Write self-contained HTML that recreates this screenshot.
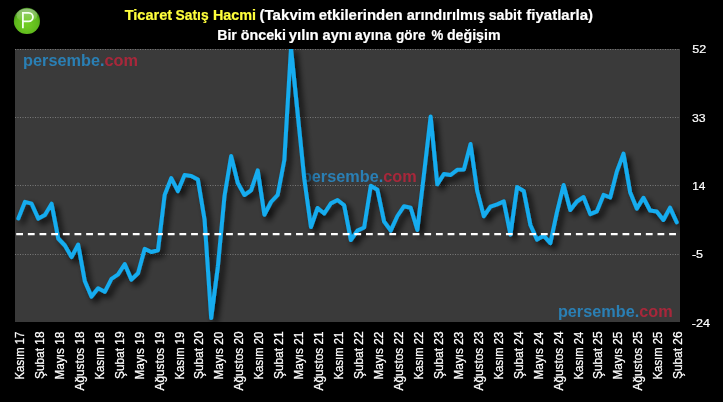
<!DOCTYPE html>
<html><head><meta charset="utf-8">
<style>
html,body{margin:0;padding:0;background:#000;width:723px;height:402px;overflow:hidden}
svg{display:block}
.t,.xl,.yl{opacity:0.999}
text{font-family:"Liberation Sans",sans-serif}
.t text{font-weight:bold;font-size:15.3px;stroke-width:0.2px}
.wm{font-weight:bold;font-size:16px}
.xl text{font-size:12px;fill:#fff;stroke:#fff;stroke-width:0.25px}
.yl text{font-size:11.5px;fill:#fff;stroke:#fff;stroke-width:0.2px}
</style></head><body>
<svg width="723" height="402" viewBox="0 0 723 402">
<defs>
<radialGradient id="pg" cx="0.5" cy="0.62" r="0.58">
<stop offset="0" stop-color="#74d024"/><stop offset="0.75" stop-color="#5eb81c"/><stop offset="1" stop-color="#3f8c14"/>
</radialGradient>
<linearGradient id="gl" x1="0" y1="0" x2="0" y2="1">
<stop offset="0" stop-color="#fff" stop-opacity="0.45"/><stop offset="1" stop-color="#fff" stop-opacity="0.05"/>
</linearGradient>
<filter id="sh" x="-10%" y="-20%" width="130%" height="150%">
<feGaussianBlur in="SourceAlpha" stdDeviation="3.4"/>
<feOffset dx="4" dy="3.5" result="b"/>
<feComponentTransfer in="b" result="c"><feFuncA type="linear" slope="0.9"/></feComponentTransfer>
<feMerge><feMergeNode in="c"/><feMergeNode in="SourceGraphic"/></feMerge>
</filter>
<filter id="wb"><feGaussianBlur stdDeviation="0.65"/></filter>
<clipPath id="pc"><rect x="15" y="49" width="665" height="273"/></clipPath>
</defs>
<rect width="723" height="402" fill="#000"/>
<circle cx="26.9" cy="20.9" r="13.1" fill="url(#pg)"/>
<ellipse cx="26.9" cy="15.2" rx="10.5" ry="6.8" fill="url(#gl)"/>
<path d="M22.9,28.2V12.8H28.7a4.25,4.25 0 0 1 0,8.5H22.9" fill="none" stroke="#f4fff0" stroke-width="1.8"/>
<g class="t" fill="#ffff3c" stroke="#ffff3c"><text x="124.66" y="19.9" textLength="47.49" lengthAdjust="spacingAndGlyphs">Ticaret</text>
<text x="175.53" y="19.9" textLength="33.07" lengthAdjust="spacingAndGlyphs">Satış</text>
<text x="212.91" y="19.9" textLength="43.12" lengthAdjust="spacingAndGlyphs">Hacmi</text></g>
<g class="t" fill="#fff" stroke="#fff"><text x="259.50" y="19.9" textLength="55.92" lengthAdjust="spacingAndGlyphs">(Takvim</text>
<text x="318.74" y="19.9" textLength="83.83" lengthAdjust="spacingAndGlyphs">etkilerinden</text>
<text x="406.66" y="19.9" textLength="78.45" lengthAdjust="spacingAndGlyphs">arındırılmış</text>
<text x="488.70" y="19.9" textLength="32.96" lengthAdjust="spacingAndGlyphs">sabit</text>
<text x="526.33" y="19.9" textLength="66.64" lengthAdjust="spacingAndGlyphs">fiyatlarla)</text>
<text x="217.22" y="39.5" textLength="19.60" lengthAdjust="spacingAndGlyphs">Bir</text>
<text x="240.76" y="39.5" textLength="45.23" lengthAdjust="spacingAndGlyphs">önceki</text>
<text x="288.73" y="39.5" textLength="29.99" lengthAdjust="spacingAndGlyphs">yılın</text>
<text x="322.46" y="39.5" textLength="29.45" lengthAdjust="spacingAndGlyphs">aynı</text>
<text x="354.87" y="39.5" textLength="36.50" lengthAdjust="spacingAndGlyphs">ayına</text>
<text x="396.06" y="39.5" textLength="29.47" lengthAdjust="spacingAndGlyphs">göre</text>
<text x="431.62" y="39.5" textLength="11.79" lengthAdjust="spacingAndGlyphs">%</text>
<text x="446.94" y="39.5" textLength="53.66" lengthAdjust="spacingAndGlyphs">değişim</text></g>
<rect x="15" y="49" width="665" height="273" fill="#3a3a3a"/>
<g stroke="#787878" stroke-width="1" stroke-dasharray="1 1.5"><line x1="15" x2="680" y1="49.5" y2="49.5"/><line x1="15" x2="680" y1="117.5" y2="117.5"/><line x1="15" x2="680" y1="185.5" y2="185.5"/><line x1="15" x2="680" y1="254.5" y2="254.5"/></g>
<g filter="url(#wb)">
<text x="23.10" y="65.8" class="wm" textLength="114.84" lengthAdjust="spacingAndGlyphs" style="font-size:16.2px"><tspan fill="#2a7fb4">persembe.</tspan><tspan fill="#a8283a">com</tspan></text>
<text x="301.90" y="181.5" class="wm" textLength="114.73" lengthAdjust="spacingAndGlyphs" style="font-size:16.2px"><tspan fill="#2a7fb4">persembe.</tspan><tspan fill="#a8283a">com</tspan></text>
<text x="557.90" y="316.7" class="wm" textLength="114.73" lengthAdjust="spacingAndGlyphs" style="font-size:16.2px"><tspan fill="#2a7fb4">persembe.</tspan><tspan fill="#a8283a">com</tspan></text>
</g>
<g clip-path="url(#pc)"><polyline points="18.32,218.5 24.98,201.8 31.62,203.7 38.28,218.6 44.92,214.9 51.58,203.7 58.23,238.5 64.88,245.5 71.53,257.1 78.18,244.5 84.83,281.3 91.48,296.6 98.12,288.2 104.78,291.8 111.43,278.8 118.08,274.4 124.73,264.0 131.38,279.6 138.03,273.2 144.68,248.9 151.33,252.0 157.97,250.3 164.62,195.0 171.28,178.1 177.93,191.1 184.58,175.0 191.23,175.9 197.88,179.6 204.53,219.5 211.18,318.0 217.83,267.0 224.48,196.0 231.12,156.0 237.78,183.0 244.43,195.0 251.08,190.3 257.73,170.4 264.38,214.8 271.03,202.0 277.68,194.8 284.32,160.0 290.98,48.0 297.62,113.3 304.28,179.0 310.93,227.0 317.57,208.0 324.23,213.5 330.88,203.4 337.53,200.0 344.18,205.3 350.83,240.0 357.48,230.6 364.12,227.5 370.78,185.8 377.43,189.8 384.08,221.5 390.73,230.6 397.38,216.0 404.03,206.2 410.68,207.8 417.33,230.0 423.98,174.0 430.62,116.5 437.28,184.3 443.93,174.0 450.58,175.0 457.23,169.8 463.88,169.6 470.53,144.0 477.18,191.0 483.83,216.2 490.48,206.6 497.12,204.3 503.78,201.4 510.43,234.6 517.08,187.1 523.73,190.9 530.38,225.0 537.02,239.6 543.68,235.7 550.33,243.2 556.98,212.0 563.62,185.0 570.27,210.0 576.93,201.5 583.58,197.0 590.23,214.1 596.88,211.3 603.52,194.9 610.18,197.5 616.83,171.5 623.48,153.6 630.12,192.2 636.77,208.6 643.43,197.8 650.08,210.5 656.73,211.5 663.38,220.0 670.03,207.6 676.68,222.3" fill="none" stroke="#12acef" stroke-width="4" stroke-linejoin="round" stroke-linecap="round" filter="url(#sh)"/></g>
<line x1="16.2" x2="680" y1="234.1" y2="234.1" stroke="#fff" stroke-width="2.1" stroke-dasharray="6.8 4.86"/>
<g class="yl"><text x="692.21" y="53.2" textLength="13.96" lengthAdjust="spacingAndGlyphs">52</text>
<text x="692.06" y="121.9" textLength="13.66" lengthAdjust="spacingAndGlyphs">33</text>
<text x="692.15" y="189.9" textLength="13.22" lengthAdjust="spacingAndGlyphs">14</text>
<text x="691.91" y="258.2" textLength="11.19" lengthAdjust="spacingAndGlyphs">-5</text>
<text x="691.81" y="327.1" textLength="18.26" lengthAdjust="spacingAndGlyphs">-24</text></g>
<g class="xl"><text transform="translate(23.92,331.61) rotate(-90)" text-anchor="end" textLength="47.89" lengthAdjust="spacingAndGlyphs">Kasım 17</text>
<text transform="translate(43.88,331.44) rotate(-90)" text-anchor="end" textLength="47.60" lengthAdjust="spacingAndGlyphs">Şubat 18</text>
<text transform="translate(63.83,331.61) rotate(-90)" text-anchor="end" textLength="47.93" lengthAdjust="spacingAndGlyphs">Mayıs 18</text>
<text transform="translate(83.78,331.44) rotate(-90)" text-anchor="end" textLength="59.00" lengthAdjust="spacingAndGlyphs">Ağustos 18</text>
<text transform="translate(103.72,331.61) rotate(-90)" text-anchor="end" textLength="47.89" lengthAdjust="spacingAndGlyphs">Kasım 18</text>
<text transform="translate(123.67,331.44) rotate(-90)" text-anchor="end" textLength="47.60" lengthAdjust="spacingAndGlyphs">Şubat 19</text>
<text transform="translate(143.62,331.61) rotate(-90)" text-anchor="end" textLength="47.93" lengthAdjust="spacingAndGlyphs">Mayıs 19</text>
<text transform="translate(163.57,331.44) rotate(-90)" text-anchor="end" textLength="59.00" lengthAdjust="spacingAndGlyphs">Ağustos 19</text>
<text transform="translate(183.53,331.61) rotate(-90)" text-anchor="end" textLength="47.89" lengthAdjust="spacingAndGlyphs">Kasım 19</text>
<text transform="translate(203.47,331.44) rotate(-90)" text-anchor="end" textLength="47.60" lengthAdjust="spacingAndGlyphs">Şubat 20</text>
<text transform="translate(223.43,331.61) rotate(-90)" text-anchor="end" textLength="47.93" lengthAdjust="spacingAndGlyphs">Mayıs 20</text>
<text transform="translate(243.38,331.44) rotate(-90)" text-anchor="end" textLength="59.00" lengthAdjust="spacingAndGlyphs">Ağustos 20</text>
<text transform="translate(263.33,331.61) rotate(-90)" text-anchor="end" textLength="47.89" lengthAdjust="spacingAndGlyphs">Kasım 20</text>
<text transform="translate(283.28,331.44) rotate(-90)" text-anchor="end" textLength="47.60" lengthAdjust="spacingAndGlyphs">Şubat 21</text>
<text transform="translate(303.23,331.61) rotate(-90)" text-anchor="end" textLength="47.93" lengthAdjust="spacingAndGlyphs">Mayıs 21</text>
<text transform="translate(323.18,331.44) rotate(-90)" text-anchor="end" textLength="59.00" lengthAdjust="spacingAndGlyphs">Ağustos 21</text>
<text transform="translate(343.13,331.61) rotate(-90)" text-anchor="end" textLength="47.89" lengthAdjust="spacingAndGlyphs">Kasım 21</text>
<text transform="translate(363.08,331.44) rotate(-90)" text-anchor="end" textLength="47.60" lengthAdjust="spacingAndGlyphs">Şubat 22</text>
<text transform="translate(383.03,331.61) rotate(-90)" text-anchor="end" textLength="47.93" lengthAdjust="spacingAndGlyphs">Mayıs 22</text>
<text transform="translate(402.98,331.44) rotate(-90)" text-anchor="end" textLength="59.00" lengthAdjust="spacingAndGlyphs">Ağustos 22</text>
<text transform="translate(422.93,331.61) rotate(-90)" text-anchor="end" textLength="47.89" lengthAdjust="spacingAndGlyphs">Kasım 22</text>
<text transform="translate(442.88,331.44) rotate(-90)" text-anchor="end" textLength="47.60" lengthAdjust="spacingAndGlyphs">Şubat 23</text>
<text transform="translate(462.83,331.61) rotate(-90)" text-anchor="end" textLength="47.93" lengthAdjust="spacingAndGlyphs">Mayıs 23</text>
<text transform="translate(482.78,331.44) rotate(-90)" text-anchor="end" textLength="59.00" lengthAdjust="spacingAndGlyphs">Ağustos 23</text>
<text transform="translate(502.73,331.61) rotate(-90)" text-anchor="end" textLength="47.89" lengthAdjust="spacingAndGlyphs">Kasım 23</text>
<text transform="translate(522.68,331.44) rotate(-90)" text-anchor="end" textLength="47.60" lengthAdjust="spacingAndGlyphs">Şubat 24</text>
<text transform="translate(542.62,331.61) rotate(-90)" text-anchor="end" textLength="47.93" lengthAdjust="spacingAndGlyphs">Mayıs 24</text>
<text transform="translate(562.58,331.44) rotate(-90)" text-anchor="end" textLength="59.00" lengthAdjust="spacingAndGlyphs">Ağustos 24</text>
<text transform="translate(582.53,331.61) rotate(-90)" text-anchor="end" textLength="47.89" lengthAdjust="spacingAndGlyphs">Kasım 24</text>
<text transform="translate(602.48,331.44) rotate(-90)" text-anchor="end" textLength="47.60" lengthAdjust="spacingAndGlyphs">Şubat 25</text>
<text transform="translate(622.43,331.61) rotate(-90)" text-anchor="end" textLength="47.93" lengthAdjust="spacingAndGlyphs">Mayıs 25</text>
<text transform="translate(642.38,331.44) rotate(-90)" text-anchor="end" textLength="59.00" lengthAdjust="spacingAndGlyphs">Ağustos 25</text>
<text transform="translate(662.33,331.61) rotate(-90)" text-anchor="end" textLength="47.89" lengthAdjust="spacingAndGlyphs">Kasım 25</text>
<text transform="translate(682.28,331.44) rotate(-90)" text-anchor="end" textLength="47.60" lengthAdjust="spacingAndGlyphs">Şubat 26</text></g>
</svg>
</body></html>
